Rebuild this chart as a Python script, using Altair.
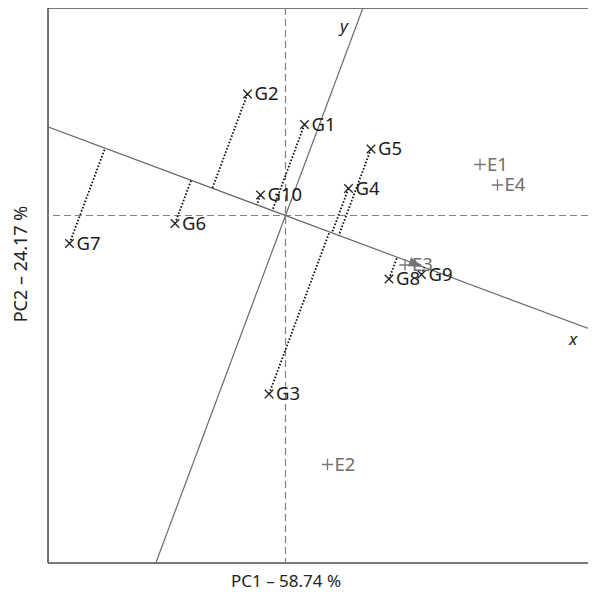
import math
import altair as alt
import pandas as pd

# Genotype scores (PC1, PC2)
gen_names = ["G1", "G2", "G3", "G4", "G5", "G6", "G7", "G8", "G9", "G10"]
gen_pc1 = [0.38, -0.76, -0.33, 1.26, 1.71, -2.21, -4.32, 2.07, 2.72, -0.50]
gen_pc2 = [1.82, 2.43, -3.57, 0.54, 1.33, -0.16, -0.56, -1.27, -1.18, 0.41]

# Environment scores (PC1, PC2)
env_names = ["E1", "E2", "E3", "E4"]
env_pc1 = [3.89, 0.84, 2.39, 4.24]
env_pc2 = [1.02, -4.98, -0.99, 0.61]

# Average environment (arrow of the average-environment axis)
avg_env = [2.76, -1.03]

# Axis-label positions
axis_lab_names = ["x", "y"]
axis_lab_pc1 = [5.75, 1.17]
axis_lab_pc2 = [-2.49, 3.77]

x_title = "PC1 – 58.74 %"
y_title = "PC2 – 24.17 %"

XDOM = [-4.75, 6.05]
YDOM = [-6.95, 4.15]
W, H = 540, 555

ux, uy = avg_env
norm = math.hypot(ux, uy)
ux, uy = ux / norm, uy / norm

gen = pd.DataFrame({"name": gen_names, "pc1": gen_pc1, "pc2": gen_pc2})
gen["fx"] = [(a * ux + b * uy) * ux for a, b in zip(gen_pc1, gen_pc2)]
gen["fy"] = [(a * ux + b * uy) * uy for a, b in zip(gen_pc1, gen_pc2)]
env = pd.DataFrame({"name": env_names, "pc1": env_pc1, "pc2": env_pc2})

# AEA line (through origin and average environment) and its perpendicular
t_lo, t_hi = -12.0, 12.0
lines = pd.DataFrame({
    "axis": ["x", "y"],
    "x1": [t_lo * ux, t_lo * (-uy)],
    "y1": [t_lo * uy, t_lo * ux],
    "x2": [t_hi * ux, t_hi * (-uy)],
    "y2": [t_hi * uy, t_hi * ux],
})

xs = alt.Scale(domain=XDOM, nice=False, zero=False)
ys = alt.Scale(domain=YDOM, nice=False, zero=False)
FONT = "Noto Sans"
LINE = "#555555"

base_x = alt.X("pc1:Q", scale=xs, axis=None)
base_y = alt.Y("pc2:Q", scale=ys, axis=None)

origin = pd.DataFrame({"pc1": [0.0], "pc2": [0.0]})

# frame: left, top, bottom borders
frame_left = alt.Chart(origin).mark_rule(color=LINE, strokeWidth=1.6).encode(
    x=alt.value(0), y=alt.value(0), y2=alt.value(H))
frame_top = alt.Chart(origin).mark_rule(color=LINE, strokeWidth=1.6).encode(
    x=alt.value(0), x2=alt.value(W + 10), y=alt.value(0))
frame_bot = alt.Chart(origin).mark_rule(color=LINE, strokeWidth=1.6).encode(
    x=alt.value(0), x2=alt.value(W + 10), y=alt.value(H))

vdash = alt.Chart(origin).mark_rule(strokeDash=[7, 4], color="#808080", strokeWidth=1.2).encode(
    x=base_x)
hdash = alt.Chart(origin).mark_rule(strokeDash=[7, 4], color="#808080", strokeWidth=1.2).encode(
    y=base_y)

axis_lines = alt.Chart(lines).mark_rule(color="#6a6a6a", strokeWidth=1.2, clip=True).encode(
    x=alt.X("x1:Q", scale=xs, axis=None), y=alt.Y("y1:Q", scale=ys, axis=None),
    x2="x2:Q", y2="y2:Q",
)

proj = alt.Chart(gen).mark_rule(color="#111111", strokeWidth=1.8,
                                strokeDash=[1.6, 1.8], clip=True).encode(
    x=base_x, y=base_y, x2="fx:Q", y2="fy:Q",
)

arrow = alt.Chart(pd.DataFrame({"pc1": [avg_env[0]], "pc2": [avg_env[1]]})).mark_point(
    shape="M0,0L-1,-0.32L-1,0.32Z", filled=True, color="#777777", opacity=1,
    size=900, angle=math.degrees(math.atan2(-avg_env[1], avg_env[0])),
).encode(x=base_x, y=base_y)

gen_pts = alt.Chart(gen).mark_point(
    shape="M-1,-1L1,1M-1,1L1,-1", filled=False, color="#222222",
    size=72, strokeWidth=1.3, opacity=1,
).encode(x=base_x, y=base_y)

env_pts = alt.Chart(env).mark_point(
    shape="M-1,0L1,0M0,-1L0,1", filled=False, color="#777777",
    size=130, strokeWidth=1.3, opacity=1,
).encode(x=base_x, y=base_y)

gen_txt = alt.Chart(gen).mark_text(
    align="left", baseline="middle", dx=7, font=FONT, fontSize=18.5, color="#1a1a1a",
).encode(x=base_x, y=base_y, text="name:N")

env_txt = alt.Chart(env).mark_text(
    align="left", baseline="middle", dx=7, font=FONT, fontSize=18.5, color="#6e6e6e",
).encode(x=base_x, y=base_y, text="name:N")

axis_txt = alt.Chart(pd.DataFrame({"name": axis_lab_names, "pc1": axis_lab_pc1,
                                   "pc2": axis_lab_pc2})).mark_text(
    align="center", baseline="middle", font=FONT, fontSize=17, fontStyle="italic",
    color="#222222",
).encode(x=base_x, y=base_y, text="name:N")

xt = alt.Chart(pd.DataFrame({"t": [x_title]})).mark_text(
    align="center", baseline="middle", font=FONT, fontSize=17, color="#222222",
).encode(x=alt.value(238), y=alt.value(H + 19), text="t:N")

yt = alt.Chart(pd.DataFrame({"t": [y_title]})).mark_text(
    align="center", baseline="middle", font=FONT, fontSize=18, color="#222222", angle=270,
).encode(x=alt.value(-26), y=alt.value(256), text="t:N")

chart = alt.layer(
    frame_left, frame_top, frame_bot, vdash, hdash, axis_lines, proj, arrow,
    env_pts, gen_pts, env_txt, gen_txt, axis_txt, xt, yt,
).properties(
    width=W, height=H,
    autosize=alt.AutoSizeParams(type="none"),
    padding={"left": 40, "top": 0, "right": 0, "bottom": 33},
).configure_view(stroke=None).configure(background="white")

chart.save("out.html", embed_options={"renderer": "svg", "actions": False})
